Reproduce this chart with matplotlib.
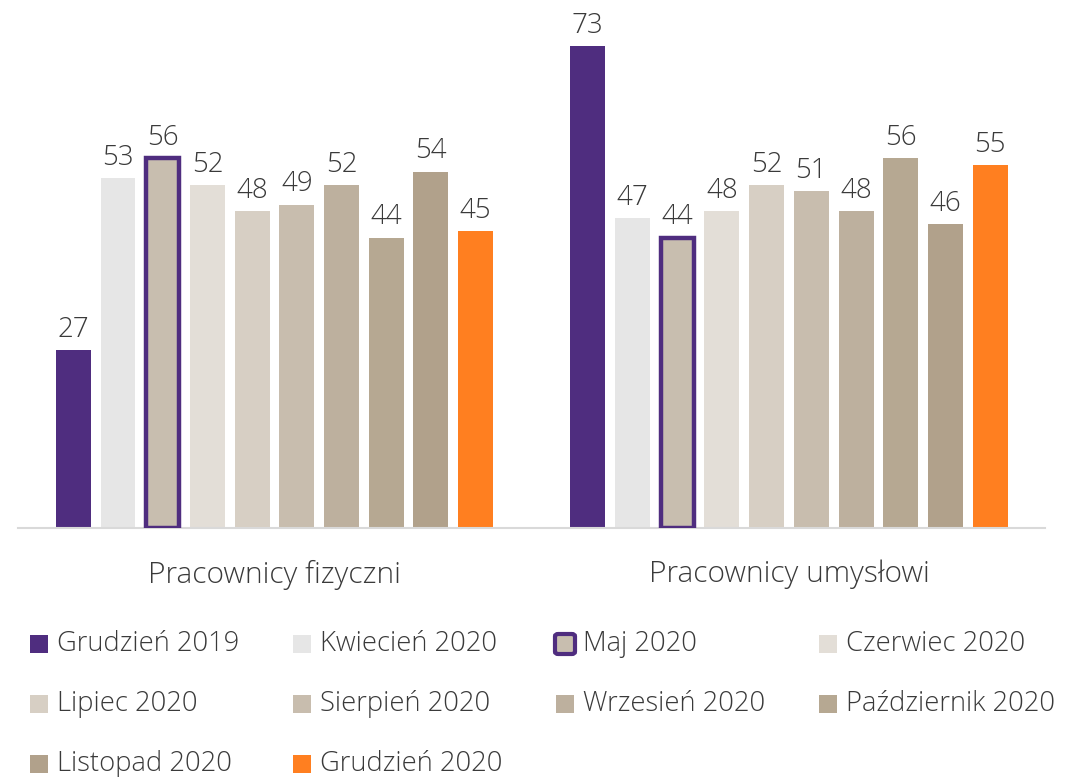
import matplotlib.pyplot as plt
from matplotlib.patches import Rectangle, FancyBboxPatch

plt.rcParams['font.family'] = ['Open Sans', 'DejaVu Sans']

# Data
groups = ['Pracownicy fizyczni', 'Pracownicy umysłowi']
series = ['Grudzień 2019', 'Kwiecień 2020', 'Maj 2020', 'Czerwiec 2020',
          'Lipiec 2020', 'Sierpień 2020', 'Wrzesień 2020', 'Październik 2020',
          'Listopad 2020', 'Grudzień 2020']
fizyczni = [27, 53, 56, 52, 48, 49, 52, 44, 54, 45]
umyslowi = [73, 47, 44, 48, 52, 51, 48, 56, 46, 55]
colors = ['#4F2D7F', '#E6E6E6', '#C8BEAF', '#E3DED7', '#D7CFC4',
          '#C8BDAE', '#BDB09E', '#B6A892', '#B1A18B', '#FF7F20']
highlight = 'Maj 2020'
purple = '#4F2D7F'
text_col = '#3A3A3A'

fig = plt.figure(figsize=(10.69, 7.77), dpi=100)
ax = fig.add_axes([18 / 1069, 249 / 777, (1045 - 18) / 1069, 528 / 777])

step = 0.0869
width = 0.068
for i, name in enumerate(series):
    vals = [fizyczni[i], umyslowi[i]]
    xs = [g + (i - 4.5) * step for g in range(len(groups))]
    if name == highlight:
        bars = ax.bar(xs, vals, width=width - 0.004, color=colors[i],
                      edgecolor=purple, linewidth=3.2, zorder=3)
    else:
        bars = ax.bar(xs, vals, width=width, color=colors[i], zorder=2)
    for b, v in zip(bars, vals):
        ax.annotate(str(v), (b.get_x() + b.get_width() / 2, v),
                    xytext=(0, 4.5), textcoords='offset points',
                    ha='center', va='bottom', fontsize=20, color=text_col,
                    fontweight='light')

ax.set_xlim(-0.4985, 1.4976)
ax.set_ylim(0, 80)
ax.set_yticks([])
ax.set_xticks(range(len(groups)))
ax.set_xticklabels(groups, fontsize=21.5, color=text_col, fontweight='light')
ax.tick_params(axis='x', length=0, pad=23)
for s in ['top', 'right', 'left']:
    ax.spines[s].set_visible(False)
ax.spines['bottom'].set_color('#D9D9D9')
ax.spines['bottom'].set_linewidth(1.5)

# Legend laid out manually on a fixed grid (row-major)
col_x = [30, 293, 556, 819]
row_y = [644, 704, 764]
W, H = 1069, 777
sq = 18
for i, name in enumerate(series):
    r, c = divmod(i, 4)
    x0, yc = col_x[c], row_y[r]
    if name == highlight:
        box = FancyBboxPatch(((x0 - 1) / W, (H - yc - 10) / H), 20 / W, 20 / H,
                             boxstyle='round,pad=0,rounding_size=0.003',
                             facecolor=colors[i], edgecolor=purple,
                             linewidth=3, transform=fig.transFigure)
        fig.patches.append(box)
    else:
        fig.patches.append(Rectangle((x0 / W, (H - yc - sq / 2) / H), sq / W, sq / H,
                                     facecolor=colors[i], edgecolor='none',
                                     transform=fig.transFigure))
    fig.text((x0 + 27) / W, (H - yc) / H, name, fontsize=19.7, color=text_col,
             ha='left', va='center', fontweight='light')

fig.savefig('out.png', dpi=100)
